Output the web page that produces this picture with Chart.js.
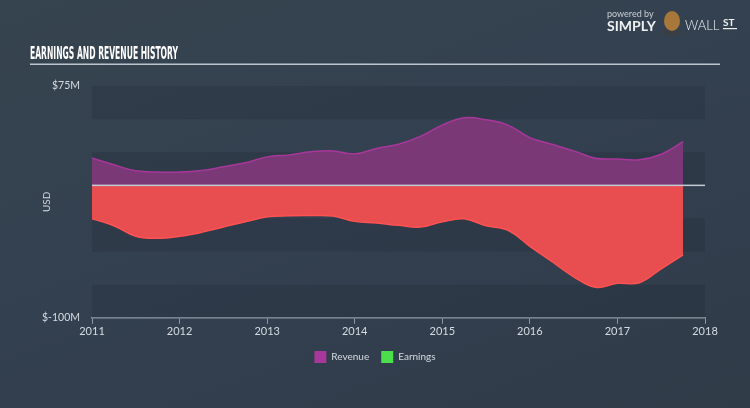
<!DOCTYPE html>
<html>
<head>
<meta charset="utf-8">
<script src="https://cdn.jsdelivr.net/npm/chart.js@4.4.0/dist/chart.umd.min.js"></script>
<style>
  html, body { margin: 0; padding: 0; background: #333f4e; }
  #wrap { position: relative; width: 750px; height: 408px;
          background: linear-gradient(160deg, #36444f 0%, #334050 50%, #303b48 100%); }
</style>
</head>
<body>
<div id="wrap"><canvas id="myChart"></canvas></div>
<script>
// quarterly points, decimal years
const years = [2011.0, 2011.25, 2011.5, 2011.75, 2012.0, 2012.25, 2012.5, 2012.75,
               2013.0, 2013.25, 2013.5, 2013.75, 2014.0, 2014.25, 2014.5, 2014.75,
               2015.0, 2015.25, 2015.5, 2015.75, 2016.0, 2016.25, 2016.5, 2016.75,
               2017.0, 2017.25, 2017.5, 2017.75];
// USD millions
const revenue = [20.7, 15.5, 11, 10, 10, 11.2, 14, 17,
                 21.5, 23, 25.3, 26, 23.8, 27.8, 31, 37,
                 45.5, 51, 49.5, 45.5, 36, 31, 26, 20.5,
                 19.9, 19.3, 23.5, 33];
const earnings = [-25.1, -30.5, -38.5, -40, -38.5, -35.5, -31.5, -27.5,
                  -23.8, -23, -22.8, -23.2, -27.2, -28.5, -30.2, -31.5,
                  -27.5, -25.3, -30.5, -34, -46, -57.5, -69, -77,
                  -74, -73.5, -63, -52.5];
const yTicks = [75, -100];
const xTicks = [2011, 2012, 2013, 2014, 2015, 2016, 2017, 2018];

const txt = '#d5dbe1';
const font = '"Lato", "Open Sans", sans-serif';

const decor = {
    id: 'decor',
    beforeDraw(chart) {
        const c = chart.ctx;
        c.save();
        // title, squeezed to look condensed
        const title = 'EARNINGS AND REVENUE HISTORY';
        c.fillStyle = '#ffffff';
        c.font = 'bold 17px "DejaVu Sans Condensed", "Liberation Sans Narrow", sans-serif';
        c.textBaseline = 'alphabetic';
        const w = c.measureText(title).width;
        c.save();
        c.translate(30, 59);
        c.scale(148 / w, 1);
        c.fillText(title, 0, 0);
        c.restore();
        c.fillStyle = '#bcc5ce';
        c.fillRect(30, 63.5, 690, 1.5);
        // logo
        c.textBaseline = 'middle';
        c.fillStyle = '#c9ced4';
        c.font = '9px ' + font;
        c.fillText('powered by', 607, 14);
        c.fillStyle = '#eef0f2';
        c.font = 'bold 14px ' + font;
        c.fillText('SIMPLY', 607, 26);
        c.font = '300 13px ' + font;
        c.fillText('WALL', 685, 26);
        c.font = 'bold 10px ' + font;
        c.fillText('ST', 723, 23);
        c.fillRect(723, 28, 14, 1.2);
        c.fillStyle = '#3a3f45';
        c.beginPath();
        c.arc(672, 36, 10, Math.PI, 0);
        c.fill();
        c.fillStyle = '#a8773a';
        c.beginPath();
        c.ellipse(672, 21, 8, 10, 0, 0, Math.PI * 2);
        c.fill();
        c.restore();
    },
    beforeDatasetsDraw(chart) {
        const c = chart.ctx;
        const area = chart.chartArea;
        const y = chart.scales.y;
        c.save();
        c.fillStyle = 'rgba(30, 40, 52, 0.25)';
        for (let v = 75; v > -100; v -= 50) {
            const top = y.getPixelForValue(v);
            const bot = y.getPixelForValue(v - 25);
            c.fillRect(area.left, top, area.right - area.left, bot - top);
        }
        c.restore();
    },
    afterDatasetsDraw(chart) {
        const c = chart.ctx;
        const area = chart.chartArea;
        const y0 = chart.scales.y.getPixelForValue(0);
        c.save();
        c.fillStyle = '#c3cad2';
        c.fillRect(area.left, y0 - 0.75, area.right - area.left, 1.5);
        c.restore();
    }
};

const ctx = document.getElementById('myChart');
const myChart = new Chart(ctx, {
    type: 'line',
    data: {
        datasets: [{
            label: 'Revenue',
            data: years.map((x, i) => ({ x: x, y: revenue[i] })),
            borderColor: '#a8379b',
            backgroundColor: '#7b3877',
            borderWidth: 1.5,
            fill: 'origin',
            tension: 0.4,
            pointRadius: 0
        }, {
            label: 'Earnings',
            data: years.map((x, i) => ({ x: x, y: earnings[i] })),
            borderColor: '#ff5252',
            backgroundColor: '#e84d50',
            borderWidth: 1.5,
            fill: 'origin',
            tension: 0.4,
            pointRadius: 0
        }]
    },
    options: {
        responsive: true,
        maintainAspectRatio: false,
        animation: false,
        layout: { padding: { top: 86, right: 0, bottom: 35, left: 0 } },
        scales: {
            x: {
                type: 'linear',
                min: 2011,
                max: 2018,
                afterBuildTicks: (s) => { s.ticks = xTicks.map(v => ({ value: v })); },
                ticks: { color: txt, font: { family: font, size: 11 }, padding: 1,
                         callback: (v) => String(v) },
                grid: { drawOnChartArea: false, color: '#8d98a4', tickLength: 6 },
                border: { display: true, color: '#8d98a4', width: 1.5 }
            },
            y: {
                min: -100,
                max: 75,
                afterBuildTicks: (s) => { s.ticks = yTicks.map(v => ({ value: v })); },
                afterFit: (s) => { s.width = 92; },
                ticks: { color: txt, font: { family: font, size: 10.5 }, padding: 4,
                         callback: (v) => '$' + v + 'M' },
                grid: { display: false },
                border: { display: false },
                title: { display: true, text: 'USD', color: txt,
                         font: { family: font, size: 10 }, padding: { top: 41, bottom: 0 } }
            },
            // empty right axis, only reserves the right margin
            yr: {
                position: 'right',
                min: -100,
                max: 75,
                afterBuildTicks: (s) => { s.ticks = []; },
                afterFit: (s) => { s.width = 45; },
                grid: { display: false },
                border: { display: false },
                ticks: { display: false }
            }
        },
        plugins: {
            legend: {
                position: 'bottom',
                labels: {
                    color: txt,
                    font: { family: font, size: 10 },
                    boxWidth: 12,
                    boxHeight: 12,
                    padding: 12,
                    generateLabels: () => [
                        { text: 'Revenue', fillStyle: '#a8379b', strokeStyle: '#a8379b', lineWidth: 0, fontColor: txt },
                        { text: 'Earnings', fillStyle: '#4be04b', strokeStyle: '#4be04b', lineWidth: 0, fontColor: txt }
                    ]
                }
            },
            tooltip: { enabled: false }
        }
    },
    plugins: [decor]
});
</script>
</body>
</html>
